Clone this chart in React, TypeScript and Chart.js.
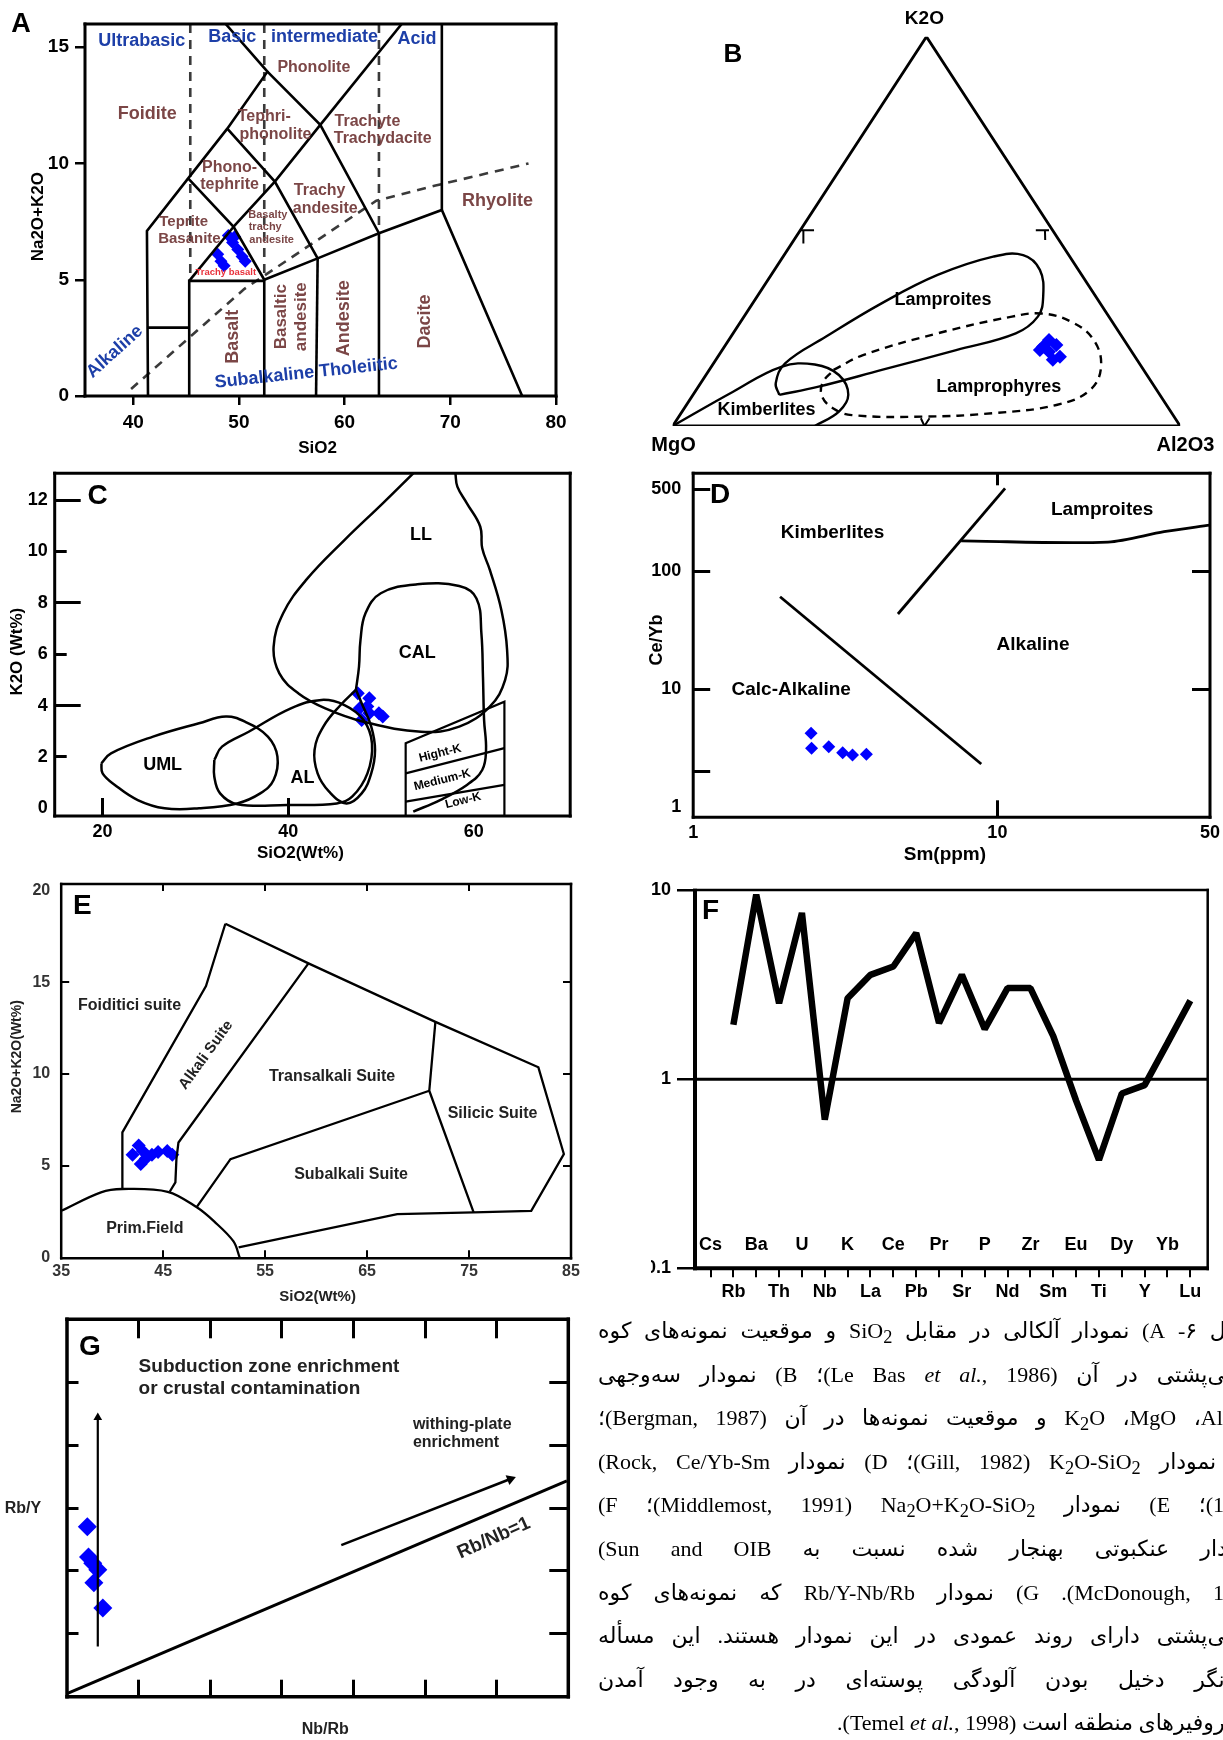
import React, { useEffect, useRef } from "react";
import { Chart, registerables } from "chart.js";
Chart.register(...registerables);

const FONT = "'Liberation Sans', Arial, Helvetica, sans-serif";
const BLUE = "#0000ff";
const LBLUE = "#1d3fa8";
const BROWN = "#7b4646";
const RED = "#e8303a";

type Pt = [number, number];

// ================= Panel A : TAS (Le Bas et al. 1986) =================
const A_X_TICKS = [40, 50, 60, 70, 80];
const A_Y_TICKS = [0, 5, 10, 15];
const A_SIO2 = [49.0, 49.4, 49.9, 50.3, 50.6, 49.6, 48.0, 48.3, 48.6];
const A_ALK = [6.9, 6.6, 6.3, 6.0, 5.8, 6.85, 6.1, 5.8, 5.6];
const A_SOLID: Pt[][] = [
  [[41.4, 0], [41.3, 7.1], [45.2, 9.36], [48.9, 11.5], [52.7, 13.95], [48.75, 16]],
  [[52.7, 13.95], [57.7, 11.66], [63.25, 7.0]],
  [[57.7, 11.66], [65.4, 16]],
  [[48.9, 11.5], [53.4, 9.22], [57.45, 5.92]],
  [[45.2, 9.36], [49.5, 7.28], [52.4, 5.0]],
  [[49.5, 7.28], [53.4, 9.22], [57.7, 11.66]],
  [[41.3, 2.94], [45.3, 2.94]],
  [[45.3, 0], [45.3, 4.95], [52.4, 4.95], [52.4, 0]],
  [[45.3, 4.95], [49.5, 7.28]],
  [[52.4, 5.0], [57.45, 5.92], [63.25, 7.0], [69.2, 8.0], [76.8, 0]],
  [[57.3, 0], [57.45, 5.92]],
  [[63.25, 0], [63.25, 7.0]],
  [[69.2, 16], [69.2, 8.0]],
];
const A_DASHED: Pt[][] = [
  [[45.4, 16], [45.4, 5.0]],
  [[52.4, 16], [52.4, 5.0]],
  [[63.25, 16], [63.25, 7.0]],
  [[39.8, 0.3], [50.5, 4.6], [63.0, 8.4], [68.6, 9.05], [77.4, 10.0]],
];

// ================= Panel B : ternary K2O-MgO-Al2O3 (K2O %, Al2O3 %) =================
const B_TRIANGLE: Pt[] = [[0, 0], [0, 100], [100, 0], [0, 0]];
const B_LAMPROITES: Pt[] = [[8.0, 17.0], [11.0, 14.8], [16.1, 14.1], [22.9, 18.7], [31.5, 25.4], [38.8, 32.8], [43.5, 41.4], [43.9, 47.1], [40.1, 52.3], [33.2, 56.4], [28.1, 57.9], [23.8, 55.7], [19.5, 46.1], [14.4, 34.0], [10.1, 23.7], [8.0, 17.0]];
const B_KIMBERLITES: Pt[] = [[0, 0], [8.8, 7.5], [15.2, 13.8], [15.8, 20.1], [13.1, 26.2], [8.0, 30.6], [3.7, 30.9], [0, 28.0]];
const B_LAMPROPHYRES: Pt[] = [[14.4, 24.5], [18.2, 28.4], [23.8, 40.3], [28.1, 52.8], [28.9, 58.2], [26.8, 65.1], [22.1, 71.9], [15.2, 76.8], [9.2, 77.6], [5.4, 72.9], [3.3, 61.5], [2.4, 48.0], [2.8, 33.9], [4.5, 29.4], [7.5, 25.7], [11.0, 24.0], [14.4, 24.5]];
const B_MARKS: Pt[][] = [
  [[50.3, 0], [50.3, 2.7]], [[50.3, 0.6], [46.9, 2.3]],
  [[50.3, 46.4], [50.3, 49.0]], [[50.3, 48.2], [47.8, 49.5]],
  [[2.0, 47.9], [0, 49.6], [2.0, 49.6]],
];
const B_K2O = [19.5, 22.1, 20.8, 19.1, 17.8, 17.0, 20.4];
const B_AL2O3 = [62.6, 63.1, 65.2, 64.6, 67.4, 66.4, 62.8];

// ================= Panel C : K2O vs SiO2 =================
const C_X_TICKS = [20, 40, 60];
const C_Y_TICKS = [0, 2, 4, 6, 8, 10, 12];
const C_LL: Pt[] = [[53.48, 13.04], [50.19, 11.87], [46.06, 10.44], [41.94, 8.89], [39.46, 7.59], [38.43, 6.29], [39.05, 5.25], [41.11, 4.47], [44.0, 3.89], [48.12, 3.37], [54.31, 2.98], [58.43, 3.18], [61.73, 3.96], [63.38, 5.0], [63.59, 6.16], [62.97, 7.72], [61.73, 9.28], [60.91, 10.12], [60.7, 10.96], [59.26, 11.87], [58.23, 12.52], [58.02, 13.04]];
const C_CAL: Pt[] = [[47.3, 4.61], [47.63, 5.51], [47.79, 6.55], [48.33, 7.59], [49.98, 8.37], [53.9, 8.72], [58.43, 8.65], [60.29, 8.17], [60.82, 6.81], [60.99, 5.12], [61.11, 3.44], [61.32, 2.27], [60.91, 1.49], [59.26, 0.91], [56.37, 0.32], [53.48, -0.13]];
const C_UML: Pt[] = [[19.87, 1.75], [20.91, 2.14], [25.44, 2.79], [30.39, 3.31], [33.28, 3.57], [35.34, 3.37], [37.81, 2.79], [38.84, 2.01], [38.43, 1.1], [36.99, 0.58], [34.51, 0.19], [30.39, 0.0], [26.68, 0.0], [23.79, 0.32], [21.32, 0.91], [20.0, 1.36], [19.87, 1.75]];
const C_AL: Pt[] = [[32.04, 1.88], [32.87, 2.4], [35.75, 2.98], [40.29, 3.89], [43.59, 4.22], [46.06, 4.02], [48.12, 3.44], [49.03, 2.53], [48.54, 1.36], [46.89, 0.45], [45.24, 0.19], [39.88, 0.13], [34.51, 0.16], [32.66, 0.58], [32.04, 1.23], [32.04, 1.88]];
const C_AL2: Pt[] = [[47.3, 4.61], [45.65, 4.02], [43.79, 3.18], [42.84, 2.27], [43.17, 1.36], [44.41, 0.65], [46.27, 0.19], [47.92, 0.58], [48.95, 1.36], [49.36, 2.27], [48.95, 3.18], [47.92, 4.09], [47.3, 4.61]];
const C_BOX: Pt[] = [[52.66, -0.3], [52.66, 2.53], [63.3, 4.15], [63.3, -0.3]];
const C_HIGH_MED: Pt[] = [[52.66, 1.36], [63.3, 2.34]];
const C_MED_LOW: Pt[] = [[52.66, 0.26], [63.3, 0.91]];
const C_SIO2 = [47.5, 48.74, 47.71, 48.74, 49.77, 50.19, 47.92, 48.53];
const C_K2O = [4.48, 4.28, 3.89, 3.7, 3.7, 3.57, 3.44, 3.96];

// ================= Panel D : Ce/Yb vs Sm =================
const D_X_TICKS = [1, 10, 50];
const D_Y_TICKS = [1, 10, 100, 500];
const D_CALC_ALK_LINE: Pt[] = [[1.93, 61], [8.85, 2.31]];
const D_KIMB_LINE: Pt[] = [[4.71, 43.5], [10.6, 510]];
const D_LAMP_LINE: Pt[] = [[7.6, 182], [23.1, 178], [35.3, 218], [50, 248]];
const D_SM = [2.44, 2.45, 2.79, 3.1, 3.34, 3.71];
const D_CEYB = [4.21, 3.14, 3.23, 2.88, 2.75, 2.8];

// ================= Panel E : Middlemost 1991 =================
const E_X_TICKS = [35, 45, 55, 65, 75, 85];
const E_Y_TICKS = [0, 5, 10, 15, 20];
const E_PRIM: Pt[] = [[35, 2.54], [38.9, 3.55], [41.0, 3.73], [45.45, 3.58], [48.3, 2.73], [50.0, 1.96], [51.9, 0.87], [52.5, 0]];
const E_FOID: Pt[] = [[41.0, 3.73], [41.0, 6.82], [49.2, 14.8], [51.1, 18.2]];
const E_OUTER: Pt[] = [[51.1, 18.2], [59.25, 16.04], [71.7, 12.85], [81.8, 10.37], [84.3, 5.64], [81.1, 2.54], [75.45, 2.45], [67.96, 2.36], [52.4, 0.54]];
const E_ALKALI: Pt[] = [[45.64, 3.58], [46.2, 4.09], [46.3, 5.36], [46.5, 6.27], [59.25, 16.04]];
const E_TRANS: Pt[] = [[48.27, 2.73], [51.6, 5.36], [71.1, 9.09]];
const E_SILICIC: Pt[] = [[71.7, 12.85], [71.1, 9.09], [75.45, 2.45]];
const E_SIO2 = [42.0, 42.6, 43.0, 42.8, 43.3, 43.9, 44.5, 45.4, 45.9];
const E_ALK = [5.6, 6.1, 5.8, 5.1, 5.4, 5.6, 5.75, 5.8, 5.6];

// ================= Panel F : OIB-normalised spider =================
const F_ELEMENTS = ["Cs", "Rb", "Ba", "Th", "U", "Nb", "K", "La", "Ce", "Pb", "Pr", "Sr", "P", "Nd", "Zr", "Sm", "Eu", "Ti", "Dy", "Y", "Yb", "Lu"];
const F_VALUES: (number | null)[] = [null, 1.94, 9.45, 2.52, 7.56, 0.61, 2.68, 3.56, 3.94, 5.92, 1.98, 3.56, 1.84, 3.03, 3.03, 1.69, 0.77, 0.374, 0.84, 0.93, 1.55, 2.6];
const F_Y_TICKS = [0.1, 1, 10];

// ================= Panel G : Rb/Y vs Nb/Rb =================
const G_X_TICKS = [1, 2, 3, 4, 5, 6];
const G_Y_TICKS = [1, 2, 3, 4, 5];
const G_RBNB_LINE: Pt[] = [[0, 0.05], [6.98, 3.43]];
const G_WPE_ARROW: Pt[] = [[3.83, 2.41], [6.19, 3.46]];
const G_SZE_ARROW: Pt[] = [[0.43, 0.8], [0.43, 4.44]];
const G_NBRB = [0.284, 0.3, 0.36, 0.43, 0.375, 0.5];
const G_RBY = [2.7, 2.22, 2.12, 2.02, 1.81, 1.41];

// ================= helpers =================
type Lbl = { t: string; x: number; y: number; s: number; c?: string; r?: number; a?: CanvasTextAlign; page?: boolean; pageY?: boolean; w?: string };

const toXY = (pts: Pt[]) => pts.map(([x, y]) => ({ x, y }));
const tern = (pts: Pt[]): Pt[] => pts.map(([k, al]) => [(al + k / 2) / 100, k / 100] as Pt);

function lineDs(pts: Pt[], o: any = {}) {
  return { data: toXY(pts), showLine: true, pointRadius: 0, pointHoverRadius: 0, borderColor: "#000", borderWidth: 2.5, backgroundColor: "transparent", fill: false, tension: 0, xAxisID: "x", yAxisID: "y", ...o };
}
function pointDs(xs: number[], ys: number[], r: number, o: any = {}) {
  return { data: xs.map((x, i) => ({ x, y: ys[i] })), showLine: false, pointStyle: "rectRot", pointRadius: r, pointHoverRadius: r, backgroundColor: BLUE, borderColor: BLUE, borderWidth: 0, xAxisID: "x", yAxisID: "y", ...o };
}

type AxisOpt = { pos: "left" | "right" | "top" | "bottom"; type?: string; min: number; max: number; ticks: number[]; size?: number; weight?: number; tl?: number; tw?: number; fmt?: (v: number, i: number) => string; pad?: number; font?: number; color?: string };
function axis(o: AxisOpt) {
  const vertical = o.pos === "left" || o.pos === "right";
  return {
    type: o.type ?? "linear",
    axis: vertical ? "y" : "x",
    position: o.pos,
    min: o.min,
    max: o.max,
    weight: o.weight ?? 0,
    afterBuildTicks: (s: any) => { s.ticks = o.ticks.map((v) => ({ value: v })); },
    afterFit: (s: any) => { if (vertical) s.width = o.size ?? 0; else s.height = o.size ?? 0; },
    grid: { display: !!o.tl, drawOnChartArea: false, drawTicks: true, tickLength: o.tl ?? 0, color: "#000", lineWidth: o.tw ?? 2.5, offset: false },
    border: { display: false },
    ticks: {
      display: !!o.fmt, autoSkip: false, maxRotation: 0, minRotation: 0, padding: o.pad ?? 4,
      color: o.color ?? "#000", font: { family: FONT, size: o.font ?? 18, weight: "bold" },
      callback: (v: any, i: number) => (o.fmt ? o.fmt(Number(v), i) : ""),
    },
  };
}

function labelPlugin(items: Lbl[], ox: number, oy: number) {
  return {
    id: "labels",
    afterDraw(chart: any) {
      const ctx = chart.ctx;
      const xs = chart.scales.x, ys = chart.scales.y;
      for (const it of items) {
        const px = it.page ? it.x - ox : xs.getPixelForValue(it.x);
        const py = it.page || it.pageY ? it.y - oy : ys.getPixelForValue(it.y);
        ctx.save();
        ctx.translate(px, py);
        if (it.r) ctx.rotate((it.r * Math.PI) / 180);
        ctx.font = `${it.w ?? "bold"} ${it.s}px ${FONT}`;
        ctx.fillStyle = it.c ?? "#000";
        ctx.textAlign = it.a ?? "center";
        ctx.textBaseline = "middle";
        ctx.fillText(it.t, 0, 0);
        ctx.restore();
      }
    },
  };
}

function framePlugin(w: number[]) {
  return {
    id: "frame",
    afterDatasetsDraw(chart: any) {
      const [wt, wr, wb, wl] = w;
      if (!wt && !wr && !wb && !wl) return;
      const { left, right, top, bottom } = chart.chartArea;
      const ctx = chart.ctx;
      ctx.save();
      ctx.strokeStyle = "#000";
      ctx.lineCap = "butt";
      const seg = (lw: number, x1: number, y1: number, x2: number, y2: number) => {
        if (!lw) return;
        ctx.lineWidth = lw;
        ctx.beginPath();
        ctx.moveTo(x1, y1);
        ctx.lineTo(x2, y2);
        ctx.stroke();
      };
      seg(wt, left - wl / 2, top, right + wr / 2, top);
      seg(wb, left - wl / 2, bottom, right + wr / 2, bottom);
      seg(wl, left, top - wt / 2, left, bottom + wb / 2);
      seg(wr, right, top - wt / 2, right, bottom + wb / 2);
      ctx.restore();
    },
  };
}

type Panel = {
  id: string;
  cv: { left: number; top: number; w: number; h: number };
  area: { l: number; t: number; r: number; b: number };
  ls: number; bs: number;
  scales: any;
  datasets: any[];
  labels: Lbl[];
  frame: number[];
};

const fmtNum = (v: number) => String(v);

// ----- Panel A -----
const panelA: Panel = {
  id: "A",
  cv: { left: 0, top: 0, w: 612, h: 470 },
  area: { l: 85, t: 24, r: 556, b: 396 },
  ls: 60, bs: 60,
  scales: {
    x: axis({ pos: "bottom", min: 35.44, max: 80, ticks: A_X_TICKS, size: 60, weight: 1, tl: 9, tw: 2.5, fmt: fmtNum, pad: 6, font: 19 }),
    y: axis({ pos: "left", min: 0, max: 16, ticks: A_Y_TICKS, size: 60, weight: 1, tl: 10, tw: 2.5, fmt: fmtNum, pad: 6, font: 19 }),
  },
  datasets: [
    ...A_SOLID.map((p) => lineDs(p, { borderWidth: 2.6 })),
    ...A_DASHED.map((p) => lineDs(p, { borderWidth: 2.6, borderDash: [9, 7], borderColor: "#3a3a3a" })),
    pointDs(A_SIO2, A_ALK, 6.5),
  ],
  labels: [
    { t: "Ultrabasic", x: 40.8, y: 15.26, s: 18, c: LBLUE },
    { t: "Basic", x: 49.38, y: 15.44, s: 18, c: LBLUE },
    { t: "intermediate", x: 58.1, y: 15.44, s: 18, c: LBLUE },
    { t: "Acid", x: 66.86, y: 15.36, s: 18, c: LBLUE },
    { t: "Phonolite", x: 57.09, y: 14.11, s: 16, c: BROWN },
    { t: "Foidite", x: 41.33, y: 12.13, s: 18, c: BROWN },
    { t: "Tephri-", x: 52.4, y: 12.03, s: 16, c: BROWN },
    { t: "phonolite", x: 53.46, y: 11.24, s: 16, c: BROWN },
    { t: "Trachyte", x: 62.16, y: 11.81, s: 16, c: BROWN },
    { t: "Trachydacite", x: 63.6, y: 11.05, s: 16, c: BROWN },
    { t: "Phono-", x: 49.12, y: 9.83, s: 16, c: BROWN },
    { t: "tephrite", x: 49.12, y: 9.11, s: 16, c: BROWN },
    { t: "Trachy", x: 57.64, y: 8.84, s: 16, c: BROWN },
    { t: "andesite", x: 58.17, y: 8.05, s: 16, c: BROWN },
    { t: "Teprite", x: 44.78, y: 7.5, s: 15, c: BROWN },
    { t: "Basanite", x: 45.32, y: 6.76, s: 15, c: BROWN },
    { t: "Basalty", x: 52.74, y: 7.79, s: 11, c: BROWN },
    { t: "trachy", x: 52.49, y: 7.25, s: 11, c: BROWN },
    { t: "andesite", x: 53.1, y: 6.72, s: 11, c: BROWN },
    { t: "Trachy basalt", x: 48.76, y: 5.31, s: 9.5, c: RED },
    { t: "Rhyolite", x: 74.47, y: 8.37, s: 18, c: BROWN },
    { t: "Basalt", x: 49.48, y: 2.55, s: 18, c: BROWN, r: -90 },
    { t: "Basaltic", x: 54.01, y: 3.41, s: 17, c: BROWN, r: -90 },
    { t: "andesite", x: 55.89, y: 3.41, s: 17, c: BROWN, r: -90 },
    { t: "Andesite", x: 59.98, y: 3.34, s: 18, c: BROWN, r: -90 },
    { t: "Dacite", x: 67.59, y: 3.2, s: 18, c: BROWN, r: -90 },
    { t: "Alkaline", x: 38.26, y: 1.91, s: 18, c: LBLUE, r: -42 },
    { t: "Subalkaline Tholeiitic", x: 56.37, y: 0.98, s: 18, c: LBLUE, r: -6 },
    { t: "A", x: 21, y: 25, s: 27, page: true },
    { t: "Na2O+K2O", x: 38.3, y: 216.7, s: 17, r: -90, page: true },
    { t: "SiO2", x: 317.6, y: 448.3, s: 17, page: true },
  ],
  frame: [3, 3, 3, 3],
};

// ----- Panel B -----
const panelB: Panel = {
  id: "B",
  cv: { left: 612, top: 0, w: 611, h: 470 },
  area: { l: 672.7, t: 36.7, r: 1180.2, b: 426 },
  ls: 0, bs: 0,
  scales: {
    x: { type: "linear", min: 0, max: 1, display: false },
    y: { type: "linear", min: 0, max: 1, display: false },
  },
  datasets: [
    lineDs(tern(B_TRIANGLE), { borderWidth: 2.8 }),
    lineDs(tern(B_LAMPROITES), { borderWidth: 2.4, tension: 0.4 }),
    lineDs(tern(B_KIMBERLITES), { borderWidth: 2.4, tension: 0.4 }),
    lineDs(tern(B_LAMPROPHYRES), { borderWidth: 2.4, tension: 0.4, borderDash: [8, 6] }),
    ...B_MARKS.map((m) => lineDs(tern(m), { borderWidth: 2 })),
    pointDs(B_AL2O3.map((al, i) => (al + B_K2O[i] / 2) / 100), B_K2O.map((k) => k / 100), 7),
  ],
  labels: [
    { t: "K2O", x: 924.4, y: 18.3, s: 19, page: true },
    { t: "MgO", x: 673.5, y: 445, s: 20, page: true },
    { t: "Al2O3", x: 1185.5, y: 445, s: 20, page: true },
    { t: "B", x: 733, y: 55, s: 26, page: true },
    { t: "Lamproites", x: 943, y: 300, s: 18, page: true },
    { t: "Lamprophyres", x: 998.8, y: 386.7, s: 18, page: true },
    { t: "Kimberlites", x: 766.4, y: 410, s: 18, page: true },
  ],
  frame: [0, 0, 0, 0],
};

// ----- Panel C -----
const panelC: Panel = {
  id: "C",
  cv: { left: 0, top: 445, w: 612, h: 430 },
  area: { l: 54.7, t: 473.3, r: 570.2, b: 816 },
  ls: 45, bs: 45,
  scales: {
    x: axis({ pos: "bottom", min: 14.84, max: 70.39, ticks: C_X_TICKS, size: 45, weight: 1, fmt: fmtNum, pad: 5, font: 18 }),
    xt: axis({ pos: "bottom", min: 14.84, max: 70.39, ticks: [20, 40], tl: -18, tw: 3 }),
    y: axis({ pos: "left", min: -0.3, max: 13.04, ticks: C_Y_TICKS, size: 45, weight: 1, fmt: fmtNum, pad: 7, font: 18 }),
    yt: axis({ pos: "left", min: -0.3, max: 13.04, ticks: [2, 6, 10], tl: -12, tw: 3 }),
    yt2: axis({ pos: "left", min: -0.3, max: 13.04, ticks: [4, 8, 12], tl: -26, tw: 3 }),
  },
  datasets: [
    lineDs(C_LL, { tension: 0.4 }),
    lineDs(C_CAL, { tension: 0.4 }),
    lineDs(C_UML, { tension: 0.4 }),
    lineDs(C_AL, { tension: 0.4 }),
    lineDs(C_AL2, { tension: 0.4 }),
    lineDs(C_BOX, { borderWidth: 2.2 }),
    lineDs(C_HIGH_MED, { borderWidth: 2.2 }),
    lineDs(C_MED_LOW, { borderWidth: 2.2 }),
    pointDs(C_SIO2, C_K2O, 7),
  ],
  labels: [
    { t: "LL", x: 54.31, y: 10.64, s: 18 },
    { t: "CAL", x: 53.9, y: 6.03, s: 18 },
    { t: "UML", x: 26.47, y: 1.69, s: 18 },
    { t: "AL", x: 41.53, y: 1.17, s: 18 },
    { t: "Hight-K", x: 56.37, y: 2.14, s: 12, r: -14 },
    { t: "Medium-K", x: 56.6, y: 1.1, s: 12, r: -14 },
    { t: "Low-K", x: 58.85, y: 0.3, s: 12, r: -14 },
    { t: "C", x: 97.6, y: 496.7, s: 28, page: true },
    { t: "K2O (Wt%)", x: 17.2, y: 651.7, s: 17, r: -90, page: true },
    { t: "SiO2(Wt%)", x: 300.4, y: 853.3, s: 17, page: true },
  ],
  frame: [3, 3, 3, 3],
};

// ----- Panel D -----
const panelD: Panel = {
  id: "D",
  cv: { left: 612, top: 445, w: 625, h: 430 },
  area: { l: 693.2, t: 473.3, r: 1210, b: 817.3 },
  ls: 60, bs: 45,
  scales: {
    x: axis({ pos: "bottom", type: "logarithmic", min: 1, max: 50, ticks: D_X_TICKS, size: 45, weight: 1, fmt: fmtNum, pad: 5, font: 18 }),
    xt: axis({ pos: "bottom", type: "logarithmic", min: 1, max: 50, ticks: [10], tl: -17, tw: 3 }),
    x2: axis({ pos: "top", type: "logarithmic", min: 1, max: 50, ticks: [10], tl: -12, tw: 3 }),
    y: axis({ pos: "left", type: "logarithmic", min: 0.813, max: 684, ticks: D_Y_TICKS, size: 60, weight: 1, fmt: fmtNum, pad: 12, font: 18 }),
    yt: axis({ pos: "left", type: "logarithmic", min: 0.813, max: 684, ticks: [2, 10, 100, 500], tl: -17, tw: 3 }),
    y2: axis({ pos: "right", type: "logarithmic", min: 0.813, max: 684, ticks: [10, 100], tl: -18, tw: 3 }),
  },
  datasets: [
    lineDs(D_CALC_ALK_LINE, { borderWidth: 2.8 }),
    lineDs(D_KIMB_LINE, { borderWidth: 2.8 }),
    lineDs(D_LAMP_LINE, { borderWidth: 2.8, tension: 0.3 }),
    pointDs(D_SM, D_CEYB, 6.5),
  ],
  labels: [
    { t: "Kimberlites", x: 2.87, y: 214, s: 19 },
    { t: "Lamproites", x: 22.1, y: 333, s: 19 },
    { t: "Alkaline", x: 13.1, y: 23.7, s: 19 },
    { t: "Calc-Alkaline", x: 2.1, y: 9.83, s: 19 },
    { t: "D", x: 720, y: 495, s: 28, page: true },
    { t: "Ce/Yb", x: 656.7, y: 640, s: 18, r: -90, page: true },
    { t: "Sm(ppm)", x: 944.9, y: 855, s: 19, page: true },
  ],
  frame: [3, 3, 3, 3],
};

// ----- Panel E -----
const panelE: Panel = {
  id: "E",
  cv: { left: 0, top: 860, w: 612, h: 450 },
  area: { l: 61.2, t: 884, r: 571, b: 1258.3 },
  ls: 45, bs: 35,
  scales: {
    x: axis({ pos: "bottom", min: 35, max: 85, ticks: E_X_TICKS, size: 35, weight: 1, fmt: fmtNum, pad: 4, font: 16, color: "#333" }),
    xt: axis({ pos: "bottom", min: 35, max: 85, ticks: [45, 55, 65, 75], tl: -8, tw: 2 }),
    x2: axis({ pos: "top", min: 35, max: 85, ticks: [45, 55, 65, 75], tl: -7, tw: 2 }),
    y: axis({ pos: "left", min: -0.05, max: 20.37, ticks: E_Y_TICKS, size: 45, weight: 1, fmt: fmtNum, pad: 11, font: 16, color: "#333" }),
    yt: axis({ pos: "left", min: -0.05, max: 20.37, ticks: [5, 10, 15], tl: -8, tw: 2 }),
    y2: axis({ pos: "right", min: -0.05, max: 20.37, ticks: [5, 10, 15], tl: -8, tw: 2 }),
  },
  datasets: [
    lineDs(E_PRIM, { borderWidth: 2.3, tension: 0.35 }),
    lineDs(E_FOID, { borderWidth: 2.3 }),
    lineDs(E_OUTER, { borderWidth: 2.3 }),
    lineDs(E_ALKALI, { borderWidth: 2.3 }),
    lineDs(E_TRANS, { borderWidth: 2.3 }),
    lineDs(E_SILICIC, { borderWidth: 2.3 }),
    pointDs(E_SIO2, E_ALK, 7),
  ],
  labels: [
    { t: "Foiditici suite", x: 41.7, y: 13.76, s: 16, c: "#222" },
    { t: "Alkali Suite", x: 49.2, y: 11.04, s: 15, c: "#222", r: -54 },
    { t: "Transalkali Suite", x: 61.57, y: 9.85, s: 16, c: "#222" },
    { t: "Silicic Suite", x: 77.31, y: 7.86, s: 16, c: "#222" },
    { t: "Subalkali Suite", x: 63.43, y: 4.49, s: 16, c: "#222" },
    { t: "Prim.Field", x: 43.2, y: 1.58, s: 16, c: "#222" },
    { t: "E", x: 82.3, y: 906.7, s: 28, page: true },
    { t: "SiO2(Wt%)", x: 317.6, y: 1296.7, s: 15, c: "#222", page: true },
    { t: "Na2O+K2O(Wt%)", x: 17.2, y: 1056.7, s: 14, c: "#222", r: -90, page: true },
  ],
  frame: [2.5, 2.5, 2.5, 2.5],
};

// ----- Panel F -----
const panelF: Panel = {
  id: "F",
  cv: { left: 641, top: 860, w: 597, h: 450 },
  area: { l: 695, t: 890, r: 1207.7, b: 1268.3 },
  ls: 44, bs: 35,
  scales: {
    x: axis({ pos: "bottom", min: -0.68, max: 21.76, ticks: F_ELEMENTS.map((_, i) => i), size: 35, weight: 1, tl: 9, tw: 2, fmt: (v) => (v % 2 === 1 ? F_ELEMENTS[v] : ""), pad: 4, font: 18 }),
    y: axis({ pos: "left", type: "logarithmic", min: 0.1, max: 10, ticks: F_Y_TICKS, size: 44, weight: 1, tl: 18, tw: 2.5, fmt: (v) => (v < 1 ? "0.1" : String(v)), pad: 6, font: 18 }),
  },
  datasets: [
    lineDs([[-0.68, 1], [21.76, 1]], { borderWidth: 3 }),
    { ...lineDs([], { borderWidth: 6.5, borderJoinStyle: "bevel", borderCapStyle: "butt" }), data: F_VALUES.map((v, i) => ({ x: i, y: v })), spanGaps: false },
  ],
  labels: [
    { t: "F", x: 710.6, y: 911.7, s: 28, page: true },
    ...F_ELEMENTS.map((e, i) => ({ t: e, x: i, y: 1245, s: 18, pageY: true })).filter((_, i) => i % 2 === 0),
  ],
  frame: [2.5, 2.5, 4, 4],
};

// ----- Panel G -----
const panelG: Panel = {
  id: "G",
  cv: { left: 0, top: 1295, w: 612, h: 445 },
  area: { l: 67, t: 1319.3, r: 568.3, b: 1696.7 },
  ls: 0, bs: 0,
  scales: {
    x: axis({ pos: "bottom", min: 0, max: 7, ticks: G_X_TICKS, tl: -17, tw: 3 }),
    x2: axis({ pos: "top", min: 0, max: 7, ticks: G_X_TICKS, tl: -19, tw: 3 }),
    y: axis({ pos: "left", min: 0, max: 6, ticks: G_Y_TICKS, tl: -11.5, tw: 3 }),
    y2: axis({ pos: "right", min: 0, max: 6, ticks: G_Y_TICKS, tl: -19, tw: 3 }),
  },
  datasets: [
    lineDs(G_RBNB_LINE, { borderWidth: 3 }),
    lineDs(G_WPE_ARROW, { borderWidth: 2.6 }),
    lineDs(G_SZE_ARROW, { borderWidth: 2.2 }),
    { data: [G_WPE_ARROW[1]].map(([x, y]) => ({ x, y })), pointStyle: "triangle", pointRadius: 6, rotation: 68.7, backgroundColor: "#000", borderColor: "#000", borderWidth: 0, xAxisID: "x", yAxisID: "y" },
    { data: [G_SZE_ARROW[1]].map(([x, y]) => ({ x, y })), pointStyle: "triangle", pointRadius: 5, rotation: 0, backgroundColor: "#000", borderColor: "#000", borderWidth: 0, xAxisID: "x", yAxisID: "y" },
    pointDs(G_NBRB, G_RBY, 9.5),
  ],
  labels: [
    { t: "G", x: 0.32, y: 5.56, s: 28 },
    { t: "Subduction zone enrichment", x: 1.0, y: 5.25, s: 19, a: "left", c: "#222" },
    { t: "or crustal contamination", x: 1.0, y: 4.9, s: 19, a: "left", c: "#222" },
    { t: "withing-plate", x: 4.83, y: 4.32, s: 16, a: "left", c: "#222" },
    { t: "enrichment", x: 4.83, y: 4.04, s: 16, a: "left", c: "#222" },
    { t: "Rb/Nb=1", x: 5.96, y: 2.52, s: 19, r: -24, c: "#222" },
    { t: "Rb/Y", x: 23, y: 1508.3, s: 16, page: true, c: "#222" },
    { t: "Nb/Rb", x: 325.3, y: 1730, s: 16, page: true, c: "#222" },
  ],
  frame: [3.5, 3.5, 3.5, 3.5],
};

const PANELS = [panelA, panelB, panelC, panelD, panelE, panelF, panelG];

function PanelChart({ p }: { p: Panel }) {
  const ref = useRef<HTMLCanvasElement | null>(null);
  useEffect(() => {
    if (!ref.current) return;
    const { cv, area } = p;
    const chart = new Chart(ref.current, {
      type: "scatter",
      data: { datasets: p.datasets },
      options: {
        responsive: false,
        animation: false,
        devicePixelRatio: 1,
        events: [],
        layout: {
          padding: {
            left: area.l - cv.left - p.ls,
            top: area.t - cv.top,
            right: cv.left + cv.w - area.r,
            bottom: cv.top + cv.h - area.b - p.bs,
          },
        },
        scales: p.scales,
        plugins: { legend: { display: false }, tooltip: { enabled: false }, title: { display: false } },
      } as any,
      plugins: [framePlugin(p.frame), labelPlugin(p.labels, cv.left, cv.top)] as any,
    });
    return () => chart.destroy();
  }, [p]);
  return (
    <canvas
      ref={ref}
      width={p.cv.w}
      height={p.cv.h}
      style={{ position: "absolute", left: p.cv.left, top: p.cv.top, width: p.cv.w, height: p.cv.h }}
    />
  );
}

const RLM = "\u200F";
const CAPTION_LINES: React.ReactNode[] = [
  <>شکل ۶- A) نمودار آلکالی در مقابل SiO<sub>2</sub> و موقعیت نمونه‌های کوه</>,
  <>ملکی‌پشتی در آن (Le Bas <i>et al.</i>, 1986)؛ B) نمودار سه‌وجهی</>,
  <>Al<sub>2</sub>O<sub>3</sub>،{RLM} MgO،{RLM} K<sub>2</sub>O و موقعیت نمونه‌ها در آن (Bergman, 1987)؛</>,
  <>C) نمودار K<sub>2</sub>O-SiO<sub>2</sub>{RLM} (Gill, 1982)؛ D) نمودار Ce/Yb-Sm <bdi dir="ltr">(Rock,</bdi></>,
  <>1991)؛ E) نمودار Na<sub>2</sub>O+K<sub>2</sub>O-SiO<sub>2</sub>{RLM} (Middlemost, 1991)؛ F)</>,
  <>نمودار عنکبوتی بهنجار شده نسبت به OIB <bdi dir="ltr">(Sun and</bdi></>,
  <>McDonough, 1989){RLM}. G) نمودار Rb/Y-Nb/Rb که نمونه‌های کوه</>,
  <>ملکی‌پشتی دارای روند عمودی در این نمودار هستند. این مسأله</>,
  <>نشانگر دخیل بودن آلودگی پوسته‌ای در به وجود آمدن</>,
  <>لامپروفیرهای منطقه است (Temel <i>et al.</i>, 1998).</>,
];

export default function App() {
  return (
    <div style={{ position: "absolute", left: 0, top: 0, width: 1223, height: 1740, overflow: "hidden", background: "#fff" }}>
      {PANELS.map((p) => (
        <PanelChart key={p.id} p={p} />
      ))}
      <div
        style={{
          position: "absolute", left: 598, top: 1309, width: 659, direction: "rtl",
          fontFamily: "'Liberation Serif', 'DejaVu Serif', 'DejaVu Sans', serif", fontSize: 22, color: "#000",
        }}
      >
        {CAPTION_LINES.map((node, i) => (
          <div
            key={i}
            style={{
              height: 43.6, lineHeight: "43.6px", overflow: "hidden",
              textAlign: i === CAPTION_LINES.length - 1 ? "right" : "justify",
              textAlignLast: i === CAPTION_LINES.length - 1 ? "right" : "justify",
            } as any}
          >
            {node}
          </div>
        ))}
      </div>
    </div>
  );
}
